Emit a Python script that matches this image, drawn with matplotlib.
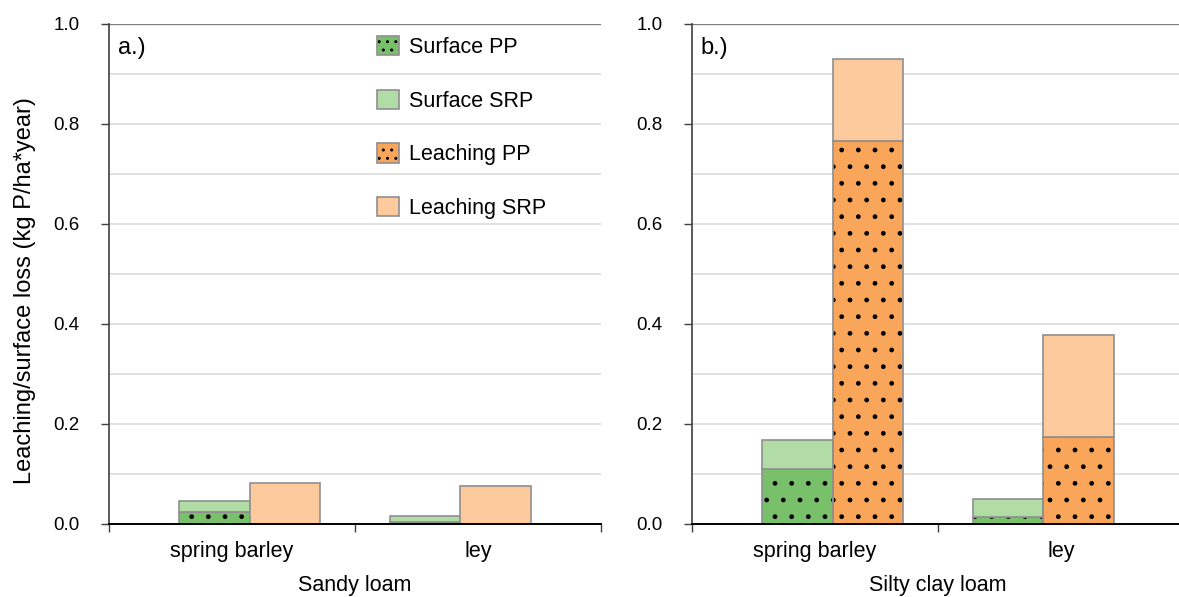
import matplotlib
matplotlib.use("Agg")
import matplotlib.pyplot as plt
from matplotlib import font_manager
from matplotlib.patches import Patch
from matplotlib.legend_handler import HandlerTuple
import numpy as np

# ---- data ----
crops = ["spring barley", "ley"]
soils = ["Sandy loam", "Silty clay loam"]
panel_tags = ["a.)", "b.)"]
series_names = ["Surface PP", "Surface SRP", "Leaching PP", "Leaching SRP"]

surface_pp = [[0.024, 0.005], [0.111, 0.015]]
surface_srp = [[0.022, 0.012], [0.057, 0.036]]
leaching_pp = [[0.000, 0.000], [0.766, 0.175]]
leaching_srp = [[0.083, 0.077], [0.164, 0.203]]

y_ticks = [0.0, 0.2, 0.4, 0.6, 0.8, 1.0]

# ---- style ----
C_SURF_PP = "#78c06a"
C_SURF_SRP = "#b1dca5"
C_LEACH_PP = "#f9a55a"
C_LEACH_SRP = "#fcca9d"
EDGE = "#8f8f8f"
GRID = "#d9d9d9"


def pick_font(names):
    for n in names:
        try:
            font_manager.findfont(font_manager.FontProperties(family=n),
                                  fallback_to_default=False)
            return n
        except Exception:
            continue
    return "DejaVu Sans"


FONT = pick_font(["Liberation Sans", "Arial"])
BIG = 15.5
YLAB = 17
TAG = 17
TICK_FS = 13.5

plt.rcParams["hatch.linewidth"] = 1.0

W, H = 1179, 597
fig = plt.figure(figsize=(W / 100, H / 100), dpi=100)

ax_w = 492 / W
ax_h = 500 / H
ax_b = (H - 524) / H
lefts = [109 / W, 692 / W]

n_slots = 7
surf_x = np.array([1.5, 4.5])
leach_x = np.array([2.5, 5.5])
cat_x = [1.75, 5.25]
bar_w = 1.0


def hatched_bar(ax, x, h, bottom, face):
    ax.bar(x, h, bar_w, bottom=bottom, color=face, edgecolor="black",
           linewidth=0, hatch=".", zorder=2)
    ax.bar(x, h, bar_w, bottom=bottom, facecolor="none", edgecolor=EDGE,
           linewidth=1.2, zorder=3)


def plain_bar(ax, x, h, bottom, face):
    ax.bar(x, h, bar_w, bottom=bottom, color=face, edgecolor=EDGE,
           linewidth=1.2, zorder=3)


axes = []
for i in range(2):
    ax = fig.add_axes([lefts[i], ax_b, ax_w, ax_h])
    axes.append(ax)
    spp = np.array(surface_pp[i])
    ssrp = np.array(surface_srp[i])
    lpp = np.array(leaching_pp[i])
    lsrp = np.array(leaching_srp[i])

    hatched_bar(ax, surf_x, spp, 0, C_SURF_PP)
    plain_bar(ax, surf_x, ssrp, spp, C_SURF_SRP)
    hatched_bar(ax, leach_x, lpp, 0, C_LEACH_PP)
    plain_bar(ax, leach_x, lsrp, lpp, C_LEACH_SRP)

    ax.set_xlim(0, n_slots)
    ax.set_ylim(0, 1.0)

    for g in np.arange(0.1, 1.01, 0.1):
        ax.axhline(g, color=GRID, lw=1.1, zorder=1)
    ax.axhline(1.0, color="#7f7f7f", lw=1.0, zorder=1)

    ax.set_yticks(y_ticks)
    ax.set_yticklabels([f"{v:.1f}" for v in y_ticks], fontsize=TICK_FS,
                       family=FONT)
    ax.tick_params(axis="y", direction="out", length=6, width=1.0,
                   pad=15, color="#404040")

    ax.set_xticks([0, n_slots / 2, n_slots])
    ax.set_xticklabels([])
    ax.tick_params(axis="x", direction="out", length=6, width=1.0,
                   color="#404040")

    for s in ["top", "right"]:
        ax.spines[s].set_visible(False)
    ax.spines["left"].set_color("#404040")
    ax.spines["left"].set_linewidth(1.2)
    ax.spines["bottom"].set_color("black")
    ax.spines["bottom"].set_linewidth(1.4)
    ax.spines["bottom"].set_zorder(4)

    for cx, name in zip(cat_x, crops):
        ax.text(cx, -0.033, name, ha="center", va="top", fontsize=BIG,
                family=FONT, transform=ax.get_xaxis_transform())
    ax.text(0.5, -0.103, soils[i], ha="center", va="top", fontsize=BIG,
            family=FONT, transform=ax.transAxes)
    ax.text(0.018, 0.952, panel_tags[i], ha="left", va="center",
            fontsize=TAG, family=FONT, transform=ax.transAxes)

fig.text(25.5 / W, 1 - 291 / H, "Leaching/surface loss (kg P/ha*year)",
         rotation=90, ha="center", va="center", fontsize=YLAB, family=FONT)

# legend: hatched entries overlay a dotted patch and an outline patch
def hatched_handle(face):
    return (Patch(facecolor=face, edgecolor="black", linewidth=0, hatch=".."),
            Patch(facecolor="none", edgecolor=EDGE, linewidth=1.2))


handles = [
    hatched_handle(C_SURF_PP),
    Patch(facecolor=C_SURF_SRP, edgecolor=EDGE, linewidth=1.2),
    hatched_handle(C_LEACH_PP),
    Patch(facecolor=C_LEACH_SRP, edgecolor=EDGE, linewidth=1.2),
]
leg = axes[0].legend(handles, series_names, loc="upper left",
                     bbox_to_anchor=((377 - 109) / 492, 1 - (36 - 24) / 500),
                     frameon=False, borderpad=0, borderaxespad=0,
                     handlelength=1.0, handleheight=1.0, handletextpad=0.5,
                     labelspacing=1.47, prop={"family": FONT, "size": BIG},
                     handler_map={tuple: HandlerTuple(ndivide=1, pad=0)})

fig.savefig("out.png", dpi=100)
